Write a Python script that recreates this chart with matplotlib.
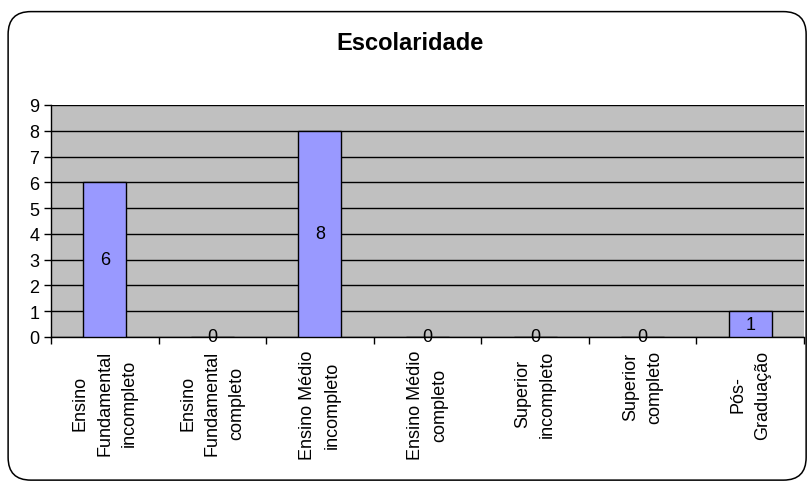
import matplotlib.pyplot as plt
import numpy as np
from matplotlib.patches import FancyBboxPatch

plt.rcParams['font.family'] = ['Liberation Sans', 'DejaVu Sans']

categorias = ['Ensino\nFundamental\nincompleto', 'Ensino\nFundamental\ncompleto',
              'Ensino Médio\nincompleto', 'Ensino Médio\ncompleto',
              'Superior\nincompleto', 'Superior\ncompleto', 'Pós-\nGraduação']
valores = [6, 0, 8, 0, 0, 0, 1]

fig = plt.figure(figsize=(8.11, 4.85), dpi=100)

# rounded frame around the chart
frame = FancyBboxPatch((0.010, 0.008), 0.984, 0.966, boxstyle='round,pad=0,rounding_size=0.028',
                       transform=fig.transFigure, fill=False, edgecolor='black', linewidth=1.1,
                       mutation_aspect=811 / 485)
fig.patches.append(frame)

ax = fig.add_axes([0.0629, 0.3031, 0.9285, 0.4784])
ax.set_facecolor('#C0C0C0')

x = np.arange(len(categorias))
ax.bar(x, valores, width=0.4, color='#9999FF', edgecolor='black', linewidth=1, zorder=3)
for xi, v in zip(x, valores):
    ax.text(xi, v / 2, str(v), ha='center', va='center', fontsize=13, zorder=4)

ax.set_xlim(-0.5, len(categorias) - 0.5)
ax.set_ylim(0, 9)
ax.set_yticks(range(10))
ax.yaxis.grid(True, color='black', linewidth=1)
ax.set_axisbelow(True)

ax.set_xticks(np.arange(len(categorias) + 1) - 0.5)
ax.set_xticklabels([])
ax.set_xticks(x, minor=True)
ax.set_xticklabels(categorias, minor=True, rotation=90, fontsize=13, linespacing=1.6)
ax.tick_params(axis='x', which='minor', length=0, pad=9)
ax.tick_params(axis='x', which='major', length=5, width=1)
ax.tick_params(axis='y', length=5, width=1, labelsize=13)

for s in ['top', 'right']:
    ax.spines[s].set_visible(False)
ax.spines['left'].set_linewidth(1)
ax.spines['bottom'].set_linewidth(1)

fig.text(0.506, 0.911, 'Escolaridade', ha='center', va='center', fontsize=17, fontweight='bold')

fig.savefig('out.png', dpi=100)
